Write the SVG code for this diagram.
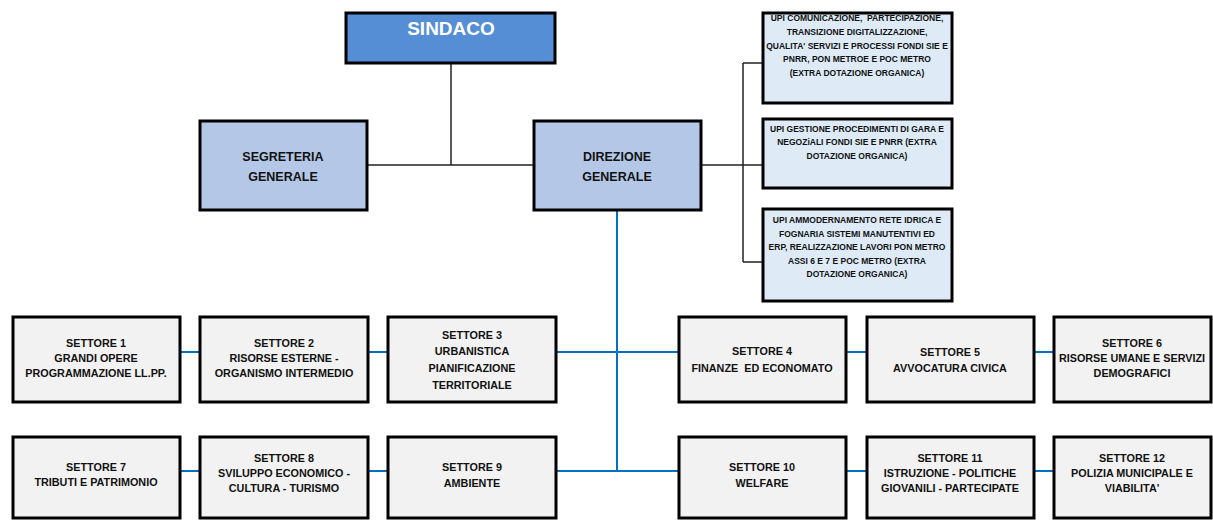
<svg xmlns="http://www.w3.org/2000/svg" width="1213" height="522" viewBox="0 0 1213 522">
<style>
.box{stroke:#000;stroke-width:3}
.set{fill:#F2F2F2}
.mid{fill:#B4C7E7}
.upi{fill:#DEEBF7}
.t{font-family:"Liberation Sans",Arial,sans-serif;font-weight:bold;fill:#111;text-anchor:middle}
.ts{font-size:10.8px}
.tm{font-size:12.5px}
.tu{font-size:8.5px}
.cb{stroke:#222;stroke-width:1.5;fill:none}
.cl{stroke:#0070C0;stroke-width:2;fill:none}
</style>
<rect width="1213" height="522" fill="#fff"/>
<g id="connectors">
<path class="cb" d="M451 63V165M367 165H533M701 165H763M743 63V262M743 63H763M743 262H763"/>
<path class="cl" d="M617 210V471M180 352H199M368 352H387M556 352H678M846 352H866M1034 352H1053M180 471H199M368 471H387M556 471H678M846 471H866M1034 471H1053"/>
</g>
<g id="sindaco"><rect class="box" x="346" y="13" width="209" height="50" fill="#558ED5"/><text class="t" x="451" y="35" style="font-size:19px;fill:#fff">SINDACO</text></g>
<g id="segreteria"><rect class="box mid" x="200" y="121" width="167" height="89"/><text class="t tm" x="283" y="161">SEGRETERIA</text><text class="t tm" x="283" y="181">GENERALE</text></g>
<g id="direzione"><rect class="box mid" x="534" y="121" width="167" height="89"/><text class="t tm" x="617" y="161">DIREZIONE</text><text class="t tm" x="617" y="181">GENERALE</text></g>
<g id="upi1"><rect class="box upi" x="763" y="13" width="189" height="90"/><text class="t tu" x="857" y="21" style="white-space:pre">UPI COMUNICAZIONE,  PARTECIPAZIONE,</text><text class="t tu" x="857" y="35">TRANSIZIONE DIGITALIZZAZIONE,</text><text class="t tu" x="857" y="49">QUALITA' SERVIZI E PROCESSI FONDI SIE E</text><text class="t tu" x="857" y="62">PNRR, PON METROE E POC METRO</text><text class="t tu" x="857" y="76">(EXTRA DOTAZIONE ORGANICA)</text></g>
<g id="upi2"><rect class="box upi" x="763" y="119" width="189" height="69"/><text class="t tu" x="857" y="132">UPI GESTIONE PROCEDIMENTI DI GARA E</text><text class="t tu" x="857" y="145">NEGOZiALI FONDI SIE E PNRR (EXTRA</text><text class="t tu" x="857" y="159">DOTAZIONE ORGANICA)</text></g>
<g id="upi3"><rect class="box upi" x="763" y="209" width="189" height="92"/><text class="t tu" x="857" y="223">UPI AMMODERNAMENTO RETE IDRICA E</text><text class="t tu" x="857" y="237">FOGNARIA SISTEMI MANUTENTIVI ED</text><text class="t tu" x="857" y="250">ERP, REALIZZAZIONE LAVORI PON METRO</text><text class="t tu" x="857" y="264">ASSI 6 E 7 E POC METRO (EXTRA</text><text class="t tu" x="857" y="277">DOTAZIONE ORGANICA)</text></g>
<g id="settore1"><rect class="box set" x="13" y="317" width="167" height="85"/><text class="t ts" x="96" y="347">SETTORE 1</text><text class="t ts" x="96" y="362">GRANDI OPERE</text><text class="t ts" x="96" y="377">PROGRAMMAZIONE LL.PP.</text></g>
<g id="settore2"><rect class="box set" x="200" y="317" width="168" height="85"/><text class="t ts" x="284" y="347">SETTORE 2</text><text class="t ts" x="284" y="362">RISORSE ESTERNE -</text><text class="t ts" x="284" y="377">ORGANISMO INTERMEDIO</text></g>
<g id="settore3"><rect class="box set" x="388" y="317" width="168" height="85"/><text class="t ts" x="472" y="339">SETTORE 3</text><text class="t ts" x="472" y="355">URBANISTICA</text><text class="t ts" x="472" y="372">PIANIFICAZIONE</text><text class="t ts" x="472" y="389">TERRITORIALE</text></g>
<g id="settore4"><rect class="box set" x="679" y="317" width="167" height="85"/><text class="t ts" x="762" y="355">SETTORE 4</text><text class="t ts" x="762" y="372" style="white-space:pre">FINANZE  ED ECONOMATO</text></g>
<g id="settore5"><rect class="box set" x="867" y="317" width="167" height="85"/><text class="t ts" x="950" y="356">SETTORE 5</text><text class="t ts" x="950" y="372">AVVOCATURA CIVICA</text></g>
<g id="settore6"><rect class="box set" x="1054" y="317" width="157" height="85"/><text class="t ts" x="1132" y="347">SETTORE 6</text><text class="t ts" x="1132" y="362">RISORSE UMANE E SERVIZI</text><text class="t ts" x="1132" y="377">DEMOGRAFICI</text></g>
<g id="settore7"><rect class="box set" x="13" y="437" width="167" height="81"/><text class="t ts" x="96" y="471">SETTORE 7</text><text class="t ts" x="96" y="486">TRIBUTI E PATRIMONIO</text></g>
<g id="settore8"><rect class="box set" x="200" y="437" width="168" height="81"/><text class="t ts" x="284" y="462">SETTORE 8</text><text class="t ts" x="284" y="477">SVILUPPO ECONOMICO -</text><text class="t ts" x="284" y="492">CULTURA - TURISMO</text></g>
<g id="settore9"><rect class="box set" x="388" y="437" width="168" height="81"/><text class="t ts" x="472" y="471">SETTORE 9</text><text class="t ts" x="472" y="487">AMBIENTE</text></g>
<g id="settore10"><rect class="box set" x="679" y="437" width="167" height="81"/><text class="t ts" x="762" y="471">SETTORE 10</text><text class="t ts" x="762" y="487">WELFARE</text></g>
<g id="settore11"><rect class="box set" x="867" y="437" width="167" height="81"/><text class="t ts" x="950" y="462">SETTORE 11</text><text class="t ts" x="950" y="477">ISTRUZIONE - POLITICHE</text><text class="t ts" x="950" y="492">GIOVANILI - PARTECIPATE</text></g>
<g id="settore12"><rect class="box set" x="1054" y="437" width="157" height="81"/><text class="t ts" x="1132" y="462">SETTORE 12</text><text class="t ts" x="1132" y="477">POLIZIA MUNICIPALE E</text><text class="t ts" x="1132" y="492">VIABILITA'</text></g>
</svg>
